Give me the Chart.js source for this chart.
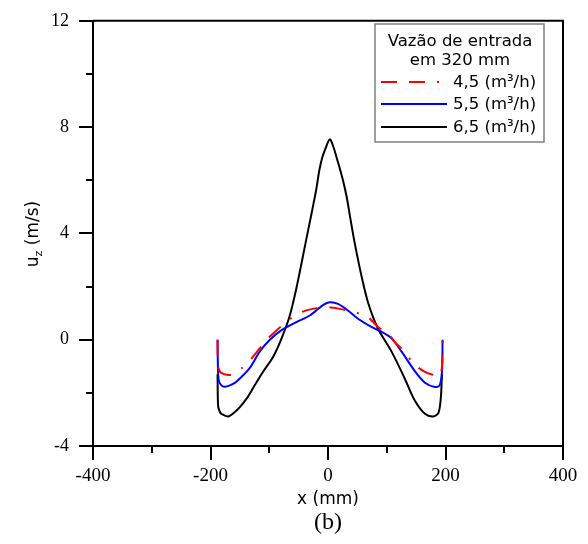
<!DOCTYPE html>
<html>
<head>
<meta charset="utf-8">
<script src="https://cdn.jsdelivr.net/npm/chart.js@4/dist/chart.umd.min.js"></script>
<style>
  html, body { margin: 0; padding: 0; background: #fff; }
  #wrap { width: 588px; height: 544px; }
</style>
</head>
<body>
<div id="wrap"><canvas id="velocityChart"></canvas></div>
<script>
// series: axial velocity u_z (m/s) against x (mm)
const seriesNames = ['4,5 (m³/h)', '5,5 (m³/h)', '6,5 (m³/h)']
const legendTitle = ['Vazão de entrada', 'em 320 mm']

const xRed = [-188, -187, -182, -164, -145, -130, -116, -102, -85, -68, -48, -26, 0, 20, 45, 68, 85, 102, 116, 130, 146, 165, 180, 190, 194, 195]
const yRed = [0, -1.0, -1.25, -1.31, -1.04, -0.7, -0.32, 0.05, 0.4, 0.73, 1.01, 1.16, 1.22, 1.16, 1.04, 0.85, 0.48, 0.23, -0.14, -0.44, -0.91, -1.21, -1.33, -1.37, -1.0, 0]

const xBlue = [-188, -187, -185, -180, -175, -165, -155, -133, -116, -99, -79, -53, -31, -8, 3, 17, 34, 51, 74, 91, 108, 125, 148, 165, 182, 190, 194, 195]
const yBlue = [0, -1.3, -1.6, -1.74, -1.77, -1.7, -1.56, -1.06, -0.44, 0, 0.36, 0.67, 0.91, 1.31, 1.41, 1.35, 1.1, 0.79, 0.48, 0.3, 0.05, -0.44, -1.19, -1.62, -1.78, -1.72, -1.2, 0]

const xBlack = [-188, -187, -184, -181, -170, -160, -150, -138, -127, -110, -93, -79, -65, -53, -39, -28, -20, -15, -10, -5, 3, 9, 14, 20, 26, 32, 37, 45, 57, 68, 85, 108, 130, 148, 165, 179, 188, 192, 194]
const yBlack = [-1.3, -2.5, -2.72, -2.8, -2.89, -2.75, -2.54, -2.2, -1.8, -1.19, -0.63, 0.05, 0.91, 2.02, 3.55, 4.75, 5.65, 6.35, 6.84, 7.15, 7.54, 7.27, 6.9, 6.45, 5.95, 5.35, 4.7, 3.69, 2.4, 1.41, 0.42, -0.44, -1.43, -2.3, -2.79, -2.89, -2.75, -2.2, -1.3]

const xTicks = [-400, -200, 0, 200, 400]
const xMinorTicks = [-300, -100, 100, 300]
const yTicks = [-4, 0, 4, 8, 12]
const yMinorTicks = [-2, 2, 6, 10]

const toPoints = (xs, ys) => xs.map((x, i) => ({ x: x, y: ys[i] }))

const serif = "'Liberation Serif', 'Times New Roman', serif"
const sans = "'DejaVu Sans', Verdana, sans-serif"

const redDash = [16, 12, 16, 12, 2, 12]

const extras = {
    id: 'extras',
    afterDraw(chart) {
        const ctx = chart.ctx
        const area = chart.chartArea
        const xs = chart.scales.x
        const ys = chart.scales.y
        ctx.save()

        // box top/right
        ctx.strokeStyle = '#000'
        ctx.lineWidth = 2
        ctx.beginPath()
        ctx.moveTo(area.left, area.top)
        ctx.lineTo(area.right, area.top)
        ctx.lineTo(area.right, area.bottom)
        ctx.stroke()

        // minor ticks
        ctx.beginPath()
        yMinorTicks.forEach(v => {
            const py = Math.round(ys.getPixelForValue(v))
            ctx.moveTo(area.left - 7, py)
            ctx.lineTo(area.left, py)
        })
        xMinorTicks.forEach(v => {
            const px = Math.round(xs.getPixelForValue(v))
            ctx.moveTo(px, area.bottom)
            ctx.lineTo(px, area.bottom + 7)
        })
        ctx.stroke()

        // axis titles
        ctx.fillStyle = '#000'
        ctx.textAlign = 'center'
        ctx.textBaseline = 'middle'
        ctx.font = '17px ' + sans
        ctx.fillText('x (mm)', (area.left + area.right) / 2, 500)
        ctx.font = '24px ' + serif
        ctx.fillText('(b)', (area.left + area.right) / 2, 523)

        // y title with subscript
        ctx.translate(34, 234)
        ctx.rotate(-Math.PI / 2)
        ctx.font = '17px ' + sans
        const wu = ctx.measureText('u').width
        ctx.font = '11px ' + sans
        const wz = ctx.measureText('z').width
        ctx.font = '17px ' + sans
        const rest = ' (m/s)'
        const wr = ctx.measureText(rest).width
        let x0 = -(wu + wz + wr) / 2
        ctx.textAlign = 'left'
        ctx.fillText('u', x0, 0)
        ctx.font = '11px ' + sans
        ctx.fillText('z', x0 + wu, 5)
        ctx.font = '17px ' + sans
        ctx.fillText(rest, x0 + wu + wz, 0)
        ctx.restore()

        // legend box
        ctx.save()
        ctx.fillStyle = '#fff'
        ctx.fillRect(375, 24, 169, 118)
        ctx.strokeStyle = '#808080'
        ctx.lineWidth = 1.5
        ctx.strokeRect(375, 24, 169, 118)
        ctx.fillStyle = '#000'
        ctx.font = '16.5px ' + sans
        ctx.textAlign = 'center'
        ctx.textBaseline = 'middle'
        ctx.fillText(legendTitle[0], 460, 42)
        ctx.fillText(legendTitle[1], 460, 61)
        ctx.textAlign = 'left'
        const rowsY = [82, 104, 127]
        chart.data.datasets.forEach((ds, i) => {
            ctx.strokeStyle = ds.borderColor
            ctx.lineWidth = ds.borderWidth
            ctx.setLineDash(ds.borderDash || [])
            ctx.beginPath()
            ctx.moveTo(381, rowsY[i])
            ctx.lineTo(447, rowsY[i])
            ctx.stroke()
            ctx.setLineDash([])
            ctx.fillText(ds.label, 453, rowsY[i] + 1)
        })
        ctx.restore()
    }
}

window.addEventListener('DOMContentLoaded', () => {
    Chart.defaults.color = '#000'
    Chart.defaults.animation = false

    const ctx = document.getElementById('velocityChart')
    new Chart(ctx, {
        type: 'line',
        data: {
            datasets: [
                {
                    label: seriesNames[0],
                    data: toPoints(xRed, yRed),
                    borderColor: '#ff0000',
                    borderWidth: 2,
                    borderDash: redDash,
                },
                {
                    label: seriesNames[1],
                    data: toPoints(xBlue, yBlue),
                    borderColor: '#0000ff',
                    borderWidth: 2,
                },
                {
                    label: seriesNames[2],
                    data: toPoints(xBlack, yBlack),
                    borderColor: '#000000',
                    borderWidth: 2,
                },
            ]
        },
        options: {
            responsive: true,
            maintainAspectRatio: false,
            layout: { padding: { top: 14, right: 25, left: 0, bottom: 0 } },
            elements: {
                point: { radius: 0 },
                line: { tension: 0.3, fill: false },
            },
            scales: {
                x: {
                    type: 'linear',
                    min: -400,
                    max: 400,
                    afterFit: s => { s.height = 98 },
                    afterBuildTicks: s => { s.ticks = xTicks.map(v => ({ value: v })) },
                    ticks: {
                        font: { family: serif, size: 19 },
                        padding: 5,
                        maxRotation: 0,
                    },
                    grid: { drawOnChartArea: false, tickLength: 14, color: '#000', lineWidth: 2 },
                    border: { color: '#000', width: 2 },
                },
                y: {
                    min: -4,
                    max: 12,
                    afterFit: s => { s.width = 93 },
                    afterBuildTicks: s => { s.ticks = yTicks.map(v => ({ value: v })) },
                    ticks: {
                        font: { family: serif, size: 18 },
                        padding: 10,
                    },
                    grid: { drawOnChartArea: false, tickLength: 14, color: '#000', lineWidth: 2 },
                    border: { color: '#000', width: 2 },
                },
            },
            plugins: {
                legend: { display: false },
                tooltip: { enabled: false },
            },
        },
        plugins: [extras],
    })
})
</script>
</body>
</html>
